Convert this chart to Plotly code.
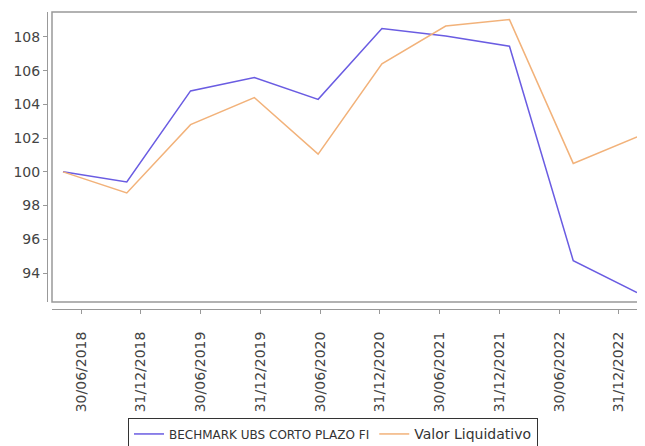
import plotly.graph_objects as go

dates = ["30/06/2018", "31/12/2018", "30/06/2019", "31/12/2019", "30/06/2020",
         "31/12/2020", "30/06/2021", "31/12/2021", "30/06/2022", "31/12/2022"]
benchmark = [100.0, 99.4, 104.8, 105.6, 104.3, 108.5, 108.05, 107.45, 94.73, 92.84]
valor_liq = [100.0, 98.75, 102.8, 104.4, 101.05, 106.4, 108.65, 109.03, 100.5, 102.07]
y_ticks = [94, 96, 98, 100, 102, 104, 106, 108]
series_names = ["BECHMARK UBS CORTO PLAZO FI", "Valor Liquidativo"]

# the page body has an 8px margin; compensate so the figure fills the window
OFF = 8
W, H = 645 - OFF, 446 - OFF
ml, mt = 47 - OFF, 12 - OFF
mb = 446 - 309
pw, ph = W - ml, H - mt - mb
x_dom0 = 5 / pw
y_dom0 = 7 / ph

idx = list(range(len(dates)))

fig = go.Figure()
fig.add_trace(go.Scatter(x=idx, y=benchmark, mode="lines",
                         name=f'<span style="font-size:12px">{series_names[0]}</span>',
                         line=dict(color="#6A5CE2", width=1.5)))
fig.add_trace(go.Scatter(x=idx, y=valor_liq, mode="lines",
                         name=f'<span style="font-size:14px">{series_names[1]}</span>',
                         line=dict(color="#F2B27A", width=1.5)))
fig.add_trace(go.Scatter(x=idx, y=[None] * len(idx), xaxis="x2", mode="lines",
                         showlegend=False, hoverinfo="skip"))

fig.update_layout(
    width=W, height=H,
    margin=dict(l=ml, r=0, t=mt, b=mb, pad=0, autoexpand=False),
    paper_bgcolor="white", plot_bgcolor="white",
    font=dict(family="DejaVu Sans", size=14, color="#444444"),
    xaxis=dict(domain=[x_dom0, 1], range=[-0.1725, 9.125], showticklabels=False,
               showline=False, showgrid=False, zeroline=False, ticks="", automargin=False),
    xaxis2=dict(domain=[x_dom0, 1], anchor="free", position=0, overlaying="x",
                range=[-0.4854, 9.439], tickvals=idx, ticktext=dates, tickangle=-90,
                ticks="outside", ticklen=4, tickcolor="#999999",
                showline=True, linecolor="#999999", linewidth=1,
                showgrid=False, zeroline=False, ticklabelstandoff=12, automargin=False,
                tickfont=dict(family="DejaVu Sans", size=14, color="#444444")),
    yaxis=dict(domain=[y_dom0, 1], anchor="free", position=0, range=[92.28, 109.48],
               tickvals=y_ticks, ticks="outside", ticklen=4, tickcolor="#999999",
               showline=True, linecolor="#999999", linewidth=1,
               showgrid=False, zeroline=False, automargin=False,
               tickfont=dict(family="DejaVu Sans", size=14, color="#444444")),
    legend=dict(orientation="h", x=(128 - 47) / pw, xanchor="left",
                y=(309 - 418) / ph, yanchor="top",
                bordercolor="#333333", borderwidth=1, bgcolor="white",
                font=dict(family="DejaVu Sans", size=13, color="#333333"),
                itemwidth=30, tracegroupgap=0),
    shapes=[dict(type="rect", xref="paper", yref="paper", x0=x_dom0, x1=1.02,
                 y0=y_dom0, y1=1, line=dict(color="#999999", width=1.5), layer="above")],
    showlegend=True,
)

fig.write_html("out.html")
